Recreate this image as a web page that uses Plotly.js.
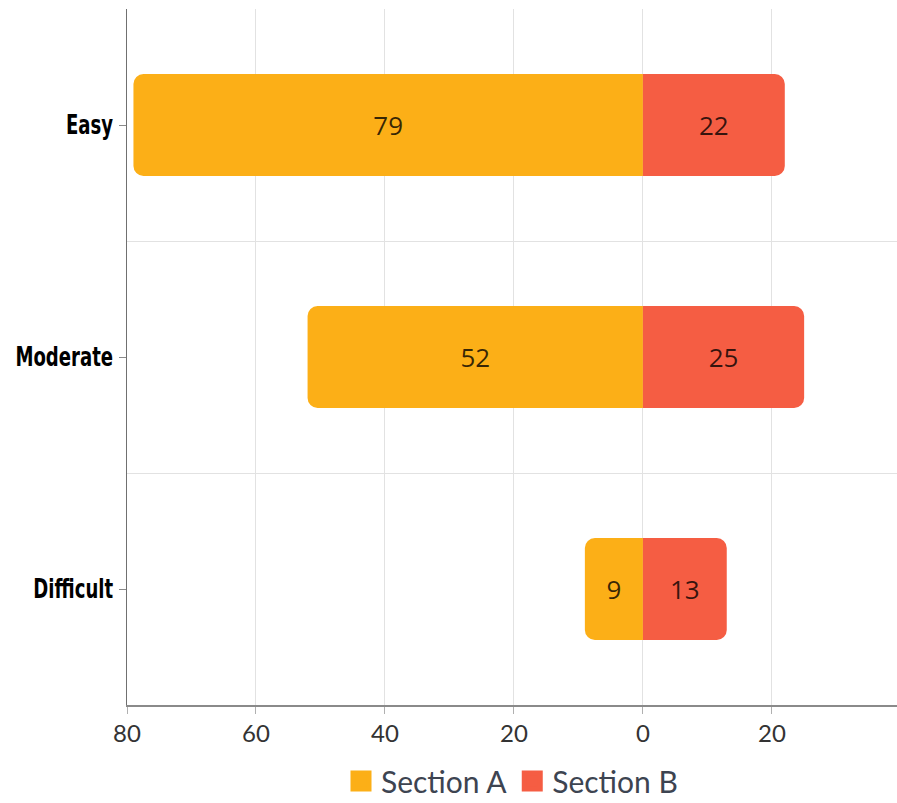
<!DOCTYPE html>
<html>
<head>
<meta charset="utf-8">
<script src="https://cdn.plot.ly/plotly-3.0.1.min.js"></script>
<style>
html,body{margin:0;padding:0;background:#fff;}
#chart{width:897px;height:803px;}
g.ytick{transform-box:fill-box;transform-origin:right center;transform:scaleX(0.67);}
</style>
</head>
<body>
<div id="chart"></div>
<script>
const categories = ["Easy", "Moderate", "Difficult"];
const sectionA = [79, 52, 9];
const sectionB = [22, 25, 13];
const seriesNames = ["Section A", "Section B"];
const seriesColors = ["#FCAF17", "#F55D43"];
const xTickVals = [-80, -60, -40, -20, 0, 20];
const xTickText = ["80", "60", "40", "20", "0", "20"];

const rowPos = categories.map((c, i) => i);
const labelFont = {family: "Open Sans, Noto Sans, sans-serif", size: 26, color: "rgba(0,0,0,0.78)"};

function barTrace(name, color, values, sign) {
  return {
    type: "bar", orientation: "h", name: name, showlegend: false,
    y: rowPos, x: values.map(v => sign * v), text: values.map(String),
    textposition: "inside", insidetextanchor: "middle", textangle: 0,
    constraintext: "none", textfont: labelFont,
    marker: {color: color, line: {width: 0}},
    hoverinfo: "skip"
  };
}
function legendProxy(name, color) {
  return {
    type: "scatter", mode: "markers", name: name, x: [null], y: [null],
    marker: {symbol: "square", size: 16, color: color, line: {color: color, width: 5}},
    hoverinfo: "skip"
  };
}

const traces = [
  barTrace(seriesNames[0], seriesColors[0], sectionA, -1),
  barTrace(seriesNames[1], seriesColors[1], sectionB, 1),
  legendProxy(seriesNames[0], seriesColors[0]),
  legendProxy(seriesNames[1], seriesColors[1])
];

const layout = {
  width: 897, height: 803,
  margin: {l: 127, r: 0, t: 9, b: 98, autoexpand: false},
  paper_bgcolor: "#fff", plot_bgcolor: "#fff",
  barmode: "relative", bargap: 0.56, barcornerradius: 10,
  showlegend: true,
  legend: {orientation: "h", x: 0.5, xanchor: "center", y: -0.072, yanchor: "top",
           font: {family: "Lato, sans-serif", size: 30, color: "#3d4451"},
           itemsizing: "trace", itemwidth: 30, tracegroupgap: 0},
  xaxis: {
    range: [-80, 39.4], tickmode: "array", tickvals: xTickVals, ticktext: xTickText,
    showgrid: true, gridcolor: "#e2e2e2", gridwidth: 1,
    zeroline: true, zerolinecolor: "#e2e2e2", zerolinewidth: 1,
    showline: true, linecolor: "#8a8a8a", linewidth: 1.5,
    ticks: "outside", ticklen: 7, tickcolor: "#b0b0b0",
    tickfont: {family: "Lato, sans-serif", size: 24, color: "#333"},
    fixedrange: true
  },
  yaxis: {
    range: [2.5, -0.5], tickmode: "array", tickvals: rowPos, ticktext: categories,
    showgrid: false, zeroline: false,
    minor: {tickmode: "array", tickvals: [0.5, 1.5], showgrid: true, gridcolor: "#e2e2e2", gridwidth: 1, ticks: ""},
    showline: true, linecolor: "#707070", linewidth: 1.5,
    ticks: "outside", ticklen: 7, tickcolor: "#8a8a8a",
    tickfont: {family: "DejaVu Sans, sans-serif", size: 27, color: "#000", weight: "bold"},
    fixedrange: true
  }
};

Plotly.newPlot("chart", traces, layout, {displayModeBar: false, staticPlot: true});
</script>
</body>
</html>
